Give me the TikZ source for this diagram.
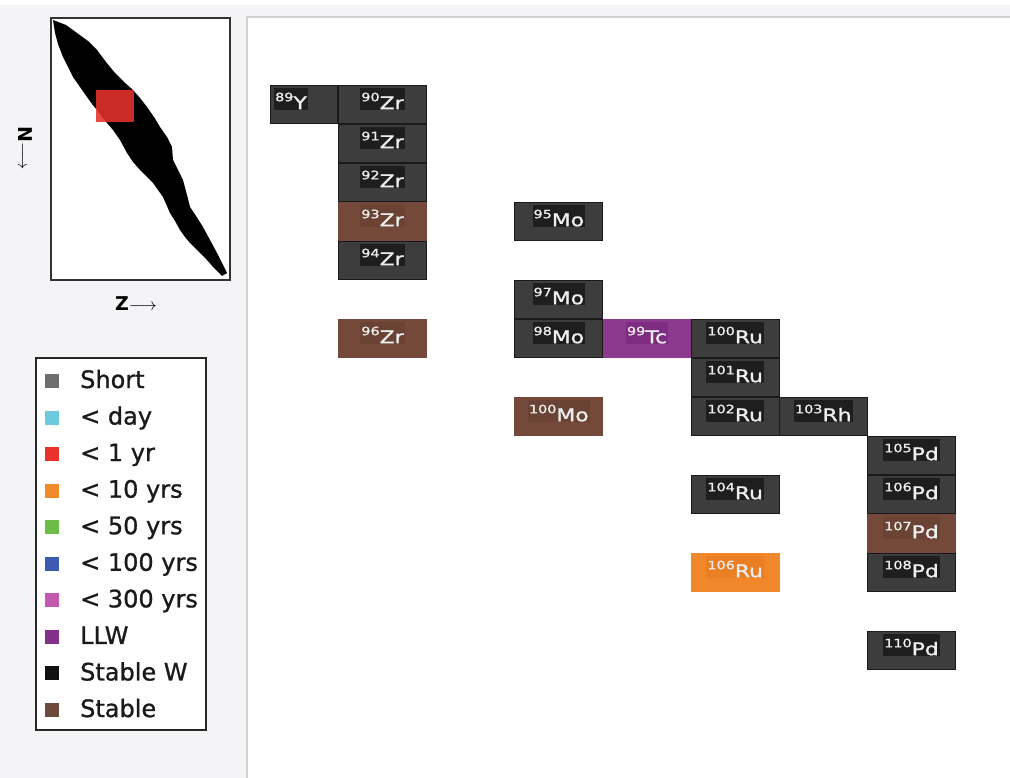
\documentclass[tikz,border=0pt]{standalone}
\usepackage{fontspec}
\setmainfont{DejaVu Sans}
\newfontfamily\cellfont{DejaVu Sans}[FakeBold=1.2]
\newfontfamily\legfont{DejaVu Sans}[FakeBold=1.0]
\usepackage{graphicx}
\definecolor{bgc}{HTML}{F4F4F6}
\definecolor{panelline}{HTML}{D2D2D4}
\definecolor{darkfill}{HTML}{3D3D3D}
\definecolor{darkdraw}{HTML}{1A1A1A}
\definecolor{darkhl}{HTML}{1E1E1E}
\definecolor{brownfill}{HTML}{74493A}
\definecolor{browndraw}{HTML}{74493A}
\definecolor{brownhl}{HTML}{6A4334}
\definecolor{purplefill}{HTML}{8B3A8E}
\definecolor{purpledraw}{HTML}{8B3A8E}
\definecolor{purplehl}{HTML}{7E2C81}
\definecolor{orangefill}{HTML}{F0872A}
\definecolor{orangedraw}{HTML}{F0872A}
\definecolor{orangehl}{HTML}{E97E22}
\definecolor{celltext}{HTML}{EEEEEE}
\definecolor{legtext}{HTML}{1A1A1A}
\definecolor{cShort}{HTML}{6E6E6E}
\definecolor{cDay}{HTML}{6CCADC}
\definecolor{cYr}{HTML}{E8322B}
\definecolor{cTen}{HTML}{F08A2A}
\definecolor{cFifty}{HTML}{6CBD45}
\definecolor{cHund}{HTML}{3D5BB0}
\definecolor{cThree}{HTML}{C45AAE}
\definecolor{cLLW}{HTML}{83308A}
\definecolor{cStW}{HTML}{111111}
\definecolor{cSt}{HTML}{6E4A3C}
\newcommand\nuclab[2]{\cellfont\scalebox{1.25}[1]{\raisebox{8pt}{\fontsize{11.5}{12}\selectfont #1}\fontsize{17.5}{18}\selectfont #2}}
\newcommand\nuc[5]{%
  \node[cellbox, fill=#2fill, draw=#2draw] (c#5#4) at ({338+88.17*#1},{85+39*(#3-50)}) {};
  \node[celltxt, fill=#2hl] (t#5#4) at ([yshift=-3pt]c#5#4.north) {\nuclab{#4}{#5}};
}
\tikzset{
  cellbox/.style={anchor=north west, minimum width=88pt, minimum height=38pt, inner sep=0pt, line width=1pt},
  celltxt/.style={anchor=north, inner xsep=1pt, inner ysep=0pt, text height=21pt, text depth=1pt, text=celltext},
  legsq/.style={minimum size=14pt, inner sep=0pt},
  legtx/.style={anchor=base west, inner sep=0pt, font=\legfont\fontsize{24}{26}\selectfont, text=legtext},
  axlab/.style={font=\fontsize{19}{20}\selectfont\rmfamily\bfseries, inner sep=0pt},
}
\begin{document}
\begin{tikzpicture}[x=1pt,y=-1pt]
\useasboundingbox (0,0) rectangle (1010,778);
% background
\fill[white] (0,0) rectangle (1010,778);
\fill[bgc] (0,5) rectangle (1010,778);
% panel
\fill[white] (247,17) rectangle (1010,778);
\draw[panelline, line width=1.5pt] (247,778) -- (247,17) -- (1010,17);
% inset
\draw[fill=white, draw=black!80, line width=1.5pt] (51,18) rectangle (230,280);
\fill[black] (53,20) -- (66,25) -- (77,33) -- (88,41) -- (97,50) -- (106,62) -- (115,73) -- (124,82) -- (133,90) -- (140,98) -- (147,107) -- (154,117) -- (160,127) -- (167,137) -- (172,147) -- (173,160) -- (178,170) -- (183,180) -- (187,195) -- (190,207) -- (196,216) -- (203,227) -- (210,240) -- (217,253) -- (222,263) -- (227,273)
  -- (222,276) -- (214,268) -- (207,260) -- (198,251) -- (190,243) -- (185,237) -- (180,230) -- (175,221) -- (170,213) -- (163,197) -- (158,190) -- (153,183) -- (147,177) -- (140,170) -- (133,162) -- (127,153) -- (120,140) -- (113,130) -- (107,123) -- (102,117) -- (97,110) -- (92,104) -- (87,97) -- (80,87) -- (73,77) -- (68,67) -- (63,57) -- (58,44) -- (55,33) -- cycle;
\fill[cYr, opacity=0.88] (96,90) rectangle (134,122);
\node[axlab] (zlab) at (136,304) {Z$\longrightarrow$};
\node[axlab, rotate=-90] (nlab) at (25,148) {N$\longrightarrow$};
% legend
\draw[fill=white, draw=black!85, line width=1.5pt] (36,358) rectangle (206,730);
\foreach \c/\t [count=\i] in {cShort/Short, cDay/{< day}, cYr/{< 1 yr}, cTen/{< 10 yrs}, cFifty/{< 50 yrs}, cHund/{< 100 yrs}, cThree/{< 300 yrs}, cLLW/LLW, cStW/Stable W, cSt/Stable}{
  \node[legsq, fill=\c] (sq\i) at (52,{381+36.56*(\i-1)}) {};
  \node[legtx] (lt\i) at (80,{388+36.56*(\i-1)}) {\t};
}
% cells
\node[cellbox, fill=darkfill, draw=darkdraw, minimum width=67pt] (cY89) at (270,85) {};
\node[celltxt, fill=darkhl] (tY89) at ([yshift=-3pt]291,85) {\nuclab{89}{Y}};
\nuc{0}{dark}{50}{90}{Zr}
\nuc{0}{dark}{51}{91}{Zr}
\nuc{0}{dark}{52}{92}{Zr}
\nuc{0}{brown}{53}{93}{Zr}
\nuc{0}{dark}{54}{94}{Zr}
\nuc{0}{brown}{56}{96}{Zr}
\nuc{2}{dark}{53}{95}{Mo}
\nuc{2}{dark}{55}{97}{Mo}
\nuc{2}{dark}{56}{98}{Mo}
\nuc{2}{brown}{58}{100}{Mo}
\nuc{3}{purple}{56}{99}{Tc}
\nuc{4}{dark}{56}{100}{Ru}
\nuc{4}{dark}{57}{101}{Ru}
\nuc{4}{dark}{58}{102}{Ru}
\nuc{4}{dark}{60}{104}{Ru}
\nuc{4}{orange}{62}{106}{Ru}
\nuc{5}{dark}{58}{103}{Rh}
\nuc{6}{dark}{59}{105}{Pd}
\nuc{6}{dark}{60}{106}{Pd}
\nuc{6}{brown}{61}{107}{Pd}
\nuc{6}{dark}{62}{108}{Pd}
\nuc{6}{dark}{64}{110}{Pd}
\end{tikzpicture}
\end{document}
